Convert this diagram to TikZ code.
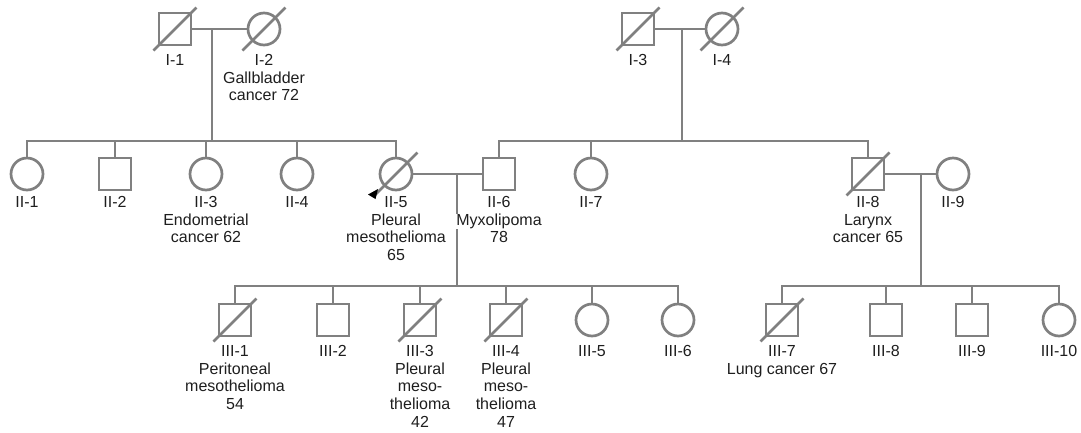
\documentclass[tikz,border=0pt]{standalone}
\usepackage{fontspec}
\setmainfont{Liberation Sans}
\definecolor{lgray}{RGB}{128,128,128}
\definecolor{txt}{RGB}{30,30,30}
\tikzset{
  ln/.style={draw=lgray, line width=2.7pt, line join=miter},
  male/.style={rectangle, ln, minimum size=32pt, inner sep=0pt},
  female/.style={circle, ln, minimum size=32pt, inner sep=0pt},
  lbl/.style={anchor=north, inner sep=0pt, align=center, text=txt,
              font=\fontsize{16}{17.8}\selectfont},
}
\newcommand{\deceased}[1]{\draw[ln] ([shift={(-21.5,21.5)}]#1.center) -- ([shift={(21.5,-21.5)}]#1.center);}
\begin{document}
\begin{tikzpicture}[x=1pt,y=-1pt]
\useasboundingbox (0,0) rectangle (1081,432);
% generation I
\node[male]   (I1) at (175,29) {};
\node[female] (I2) at (264,29) {};
\node[male]   (I3) at (638,29) {};
\node[female] (I4) at (722,29) {};
% generation II
\node[female] (II1) at (27,174) {};
\node[male]   (II2) at (115,174) {};
\node[female] (II3) at (206,174) {};
\node[female] (II4) at (297,174) {};
\node[female] (II5) at (396,174) {};
\node[male]   (II6) at (499,174) {};
\node[female] (II7) at (591,174) {};
\node[male]   (II8) at (868,174) {};
\node[female] (II9) at (953,174) {};
% generation III
\node[male]   (III1) at (235,320) {};
\node[male]   (III2) at (333,320) {};
\node[male]   (III3) at (420,320) {};
\node[male]   (III4) at (506,320) {};
\node[female] (III5) at (592,320) {};
\node[female] (III6) at (678,320) {};
\node[male]   (III7) at (782,320) {};
\node[male]   (III8) at (886,320) {};
\node[male]   (III9) at (972,320) {};
\node[female] (III10) at (1059,320) {};
% junction points
\coordinate (m1) at (212,29);  \coordinate (s1) at (212,141);
\coordinate (m2) at (682,29);  \coordinate (s2) at (682,141);
\coordinate (m3) at (457,174); \coordinate (s3) at (457,286);
\coordinate (m4) at (921,174); \coordinate (s4) at (921,286);
% couple lines
\draw[ln] (I1) -- (I2);
\draw[ln] (I3) -- (I4);
\draw[ln] (II5) -- (II6);
\draw[ln] (II8) -- (II9);
% descent lines
\draw[ln] (m1) -- (s1);
\draw[ln] (m2) -- (s2);
\draw[ln] (m3) -- (s3);
\draw[ln] (m4) -- (s4);
% sibships
\draw[ln] (II1) |- (s1) -| (II5);
\draw[ln] (II2) -- (II2 |- s1);
\draw[ln] (II3) -- (II3 |- s1);
\draw[ln] (II4) -- (II4 |- s1);
\draw[ln] (II6) |- (s2) -| (II8);
\draw[ln] (II7) -- (II7 |- s2);
\draw[ln] (III1) |- (s3) -| (III6);
\draw[ln] (III2) -- (III2 |- s3);
\draw[ln] (III3) -- (III3 |- s3);
\draw[ln] (III4) -- (III4 |- s3);
\draw[ln] (III5) -- (III5 |- s3);
\draw[ln] (III7) |- (s4) -| (III10);
\draw[ln] (III8) -- (III8 |- s4);
\draw[ln] (III9) -- (III9 |- s4);
% deceased marks
\deceased{I1}\deceased{I2}\deceased{I3}\deceased{I4}
\deceased{II5}\deceased{II8}
\deceased{III1}\deceased{III3}\deceased{III4}\deceased{III7}
% proband arrow
\fill[black] (368,194.5) -- (378,189) -- (375.5,199) -- cycle;
% labels
\node[lbl] (lI1) at (175,54) {I-1};
\node[lbl] (lI2) at (264,54) {I-2\\Gallbladder\\cancer 72};
\node[lbl] (lI3) at (638,54) {I-3};
\node[lbl] (lI4) at (722,54) {I-4};
\node[lbl] (lII1) at (27,196) {II-1};
\node[lbl] (lII2) at (115,196) {II-2};
\node[lbl] (lII3) at (206,196) {II-3\\Endometrial\\cancer 62};
\node[lbl] (lII4) at (297,196) {II-4};
\node[lbl] (lII5) at (396,196) {II-5\\Pleural\\mesothelioma\\65};
\node[lbl] (lII6a) at (499,196) {II-6};
\node[lbl, fill=white] (lII6b) at (499,213.8) {Myxolipoma};
\node[lbl] (lII6c) at (499,231.6) {78};
\node[lbl] (lII7) at (591,196) {II-7};
\node[lbl] (lII8) at (868,196) {II-8\\Larynx\\cancer 65};
\node[lbl] (lII9) at (953,196) {II-9};
\node[lbl] (lIII1) at (235,345) {III-1\\Peritoneal\\mesothelioma\\54};
\node[lbl] (lIII2) at (333,345) {III-2};
\node[lbl] (lIII3) at (420,345) {III-3\\Pleural\\meso-\\thelioma\\42};
\node[lbl] (lIII4) at (506,345) {III-4\\Pleural\\meso-\\thelioma\\47};
\node[lbl] (lIII5) at (592,345) {III-5};
\node[lbl] (lIII6) at (678,345) {III-6};
\node[lbl] (lIII7) at (782,345) {III-7\\Lung cancer 67};
\node[lbl] (lIII8) at (886,345) {III-8};
\node[lbl] (lIII9) at (972,345) {III-9};
\node[lbl] (lIII10) at (1059,345) {III-10};
\end{tikzpicture}
\end{document}
